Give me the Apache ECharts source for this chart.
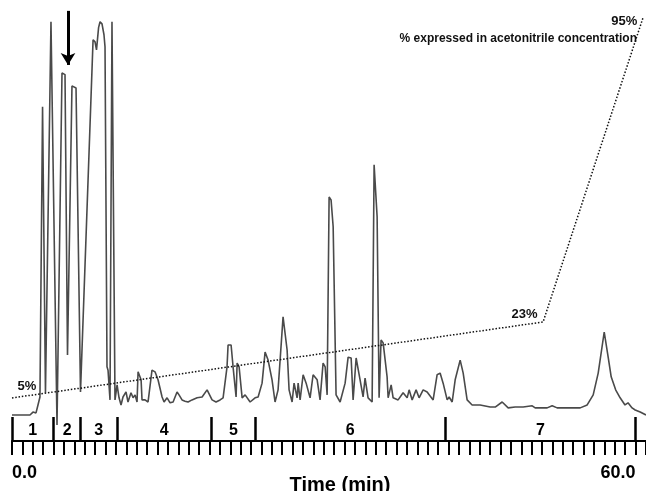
<!DOCTYPE html>
<html>
<head>
<meta charset="utf-8">
<title>Chromatogram</title>
<style>
  html, body { margin: 0; padding: 0; background: #fff; }
  #chart { width: 646px; height: 491px; }
</style>
</head>
<body>
<div id="chart"></div>
<script src="https://cdn.jsdelivr.net/npm/echarts@6.0.0/dist/echarts.min.js"></script>
<script>
// retention time (min) and detector signal (arbitrary units)
const timeMin = [
  0, 1.73, 2.02, 2.31, 2.50, 2.69, 2.94, 3.22, 3.75, 4.33,
  4.81, 5.10, 5.34, 5.77, 6.16, 6.59, 7.80, 7.99, 8.13, 8.33,
  8.47, 8.66, 8.85, 8.95, 9.14, 9.24, 9.43, 9.62, 9.91, 10.11,
  10.30, 10.49, 10.68, 10.97, 11.16, 11.45, 11.65, 11.84, 12.03, 12.13,
  12.32, 12.42, 12.51, 12.80, 13.09, 13.47, 13.76, 14.05, 14.44, 14.63,
  14.92, 15.21, 15.50, 15.88, 16.07, 16.36, 16.65, 16.94, 17.32, 17.81,
  18.29, 18.77, 18.86, 19.25, 19.63, 20.02, 20.31, 20.69, 20.79, 21.08,
  21.27, 21.56, 21.66, 21.85, 22.14, 22.43, 22.91, 23.39, 23.68, 24.06,
  24.35, 24.64, 25.02, 25.31, 25.60, 26.08, 26.47, 26.66, 26.95, 27.14,
  27.43, 27.53, 27.72, 28.01, 28.30, 28.68, 28.97, 29.36, 29.64, 29.93,
  30.13, 30.32, 30.51, 30.70, 30.90, 31.18, 31.57, 32.05, 32.34, 32.63,
  32.82, 33.11, 33.49, 33.78, 33.97, 34.26, 34.65, 34.84, 35.13, 35.32,
  35.51, 35.71, 36.09, 36.19, 36.48, 36.67, 37.15, 37.63, 38.02, 38.21,
  38.50, 38.88, 39.17, 39.56, 39.94, 40.52, 40.90, 41.19, 41.48, 41.87,
  42.06, 42.35, 42.64, 43.12, 43.41, 43.79, 44.27, 45.04, 46.01, 46.49,
  47.16, 47.74, 48.41, 49.18, 50.05, 50.34, 51.49, 51.97, 52.45, 54.67,
  55.34, 55.92, 56.40, 56.98, 57.36, 57.65, 58.08, 58.51, 58.98, 59.27,
  59.66, 59.96, 60.44, 61.0
];
const signal = [
  6.2, 6.2, 6.9, 6.7, 8.6, 10.5, 79.7, 11.5, 100, 3.8,
  87.8, 87.4, 20.5, 84.7, 84.2, 11.7, 95.7, 95.2, 93.3, 98.6,
  100, 99.5, 96.9, 94.0, 17.7, 16.9, 9.8, 100, 9.8, 13.4,
  10.3, 8.6, 10.5, 11.7, 9.3, 11.5, 10.3, 11.0, 9.3, 16.5,
  16.9, 14.6, 9.8, 9.8, 9.3, 16.9, 16.5, 14.6, 10.5, 9.3,
  10.3, 9.1, 9.3, 11.7, 11.0, 9.8, 9.5, 9.3, 9.8, 10.3,
  10.5, 12.2, 12.6, 9.8, 9.3, 9.8, 10.3, 17.7, 22.9, 22.9,
  17.7, 10.5, 18.6, 17.7, 10.3, 11.0, 9.3, 10.3, 10.5, 13.8,
  21.2, 19.3, 14.6, 9.3, 12.2, 29.6, 21.7, 12.2, 9.3, 13.8,
  10.3, 13.8, 9.8, 15.8, 13.8, 10.3, 15.8, 14.6, 9.8, 18.6,
  17.7, 11.0, 58.2, 57.5, 51.1, 11.0, 9.3, 13.8, 20.0, 19.8,
  9.8, 19.8, 14.6, 10.5, 15.0, 10.3, 9.3, 65.9, 53.5, 10.3,
  24.1, 23.4, 15.3, 10.3, 13.4, 10.3, 9.8, 11.5, 10.3, 12.2,
  9.8, 12.2, 10.3, 12.2, 11.7, 9.8, 15.8, 16.2, 13.8, 9.8,
  10.5, 9.3, 14.6, 19.3, 16.2, 9.8, 8.6, 8.6, 8.1, 8.1,
  9.3, 7.9, 8.1, 8.1, 8.4, 7.9, 7.9, 8.4, 7.9, 7.9,
  8.6, 11.0, 16.2, 26.0, 20.0, 15.3, 12.2, 10.3, 8.6, 9.1,
  7.9, 7.4, 6.9, 6.2
];

// acetonitrile gradient
const gradientTime = [0, 51.1, 60.7];
const gradientPct = [5, 23, 95];
const gradientLabels = ['5%', '23%', '95%'];

// collected fractions
const fractionBounds = [0, 4.0, 6.6, 10.1, 19.2, 23.4, 41.7, 60];
const fractionNames = ['1', '2', '3', '4', '5', '6', '7'];

const timeTickLabels = [0, 60];

// arrow marking the peak of interest
const arrowTime = 5.39;
const arrowFrom = 102.6;
const arrowTo = 89.7;

const font = '"Liberation Sans", Arial, sans-serif';
const fractionMids = fractionNames.map((n, i) => (fractionBounds[i] + fractionBounds[i + 1]) / 2);
const labelPos = [
  { position: 'top', offset: [15, 0] },
  { position: 'left', offset: [0, -8] },
  { position: 'left', offset: [0, 3] }
];

const chart = echarts.init(document.getElementById('chart'));

chart.setOption({
  animation: false,
  backgroundColor: '#fff',
  textStyle: { fontFamily: font },
  title: {
    text: '% expressed in acetonitrile concentration',
    right: 9,
    top: 33,
    padding: 0,
    textStyle: { fontFamily: font, fontSize: 12, fontWeight: 'bold', color: '#111' }
  },
  grid: { left: 12, right: 0, top: 5, bottom: 50, outerBoundsMode: 'none' },
  xAxis: [
    {
      type: 'value',
      min: 0,
      max: 61,
      interval: 1,
      position: 'bottom',
      splitLine: { show: false },
      axisLine: { onZero: false, lineStyle: { color: '#000', width: 2 } },
      axisTick: { length: 14, lineStyle: { color: '#000', width: 2 } },
      axisLabel: {
        customValues: timeTickLabels,
        formatter: (v) => Number(v).toFixed(1),
        alignMinLabel: 'left',
        alignMaxLabel: 'right',
        margin: 23,
        fontSize: 18,
        fontWeight: 'bold',
        color: '#000'
      },
      name: 'Time (min)',
      nameLocation: 'middle',
      nameGap: 34,
      nameMoveOverlap: false,
      nameTextStyle: { fontSize: 20, fontWeight: 'bold', color: '#000', padding: [0, 0, 0, 22] }
    },
    {
      type: 'value',
      min: 0,
      max: 61,
      position: 'bottom',
      splitLine: { show: false },
      axisLine: { show: false, onZero: false },
      axisTick: {
        inside: true,
        length: 24,
        customValues: fractionBounds,
        lineStyle: { color: '#000', width: 2.5 }
      },
      axisLabel: {
        inside: false,
        customValues: fractionMids,
        formatter: (v) => {
          const i = fractionMids.findIndex((m) => Math.abs(m - v) < 1e-6);
          return i >= 0 ? fractionNames[i] : '';
        },
        margin: -18,
        fontSize: 16,
        fontWeight: 'bold',
        color: '#000'
      }
    }
  ],
  yAxis: [
    { type: 'value', min: 0, max: 104, show: false },
    { type: 'value', min: -5.2, max: 98.1, show: false }
  ],
  series: [
    {
      name: 'signal',
      type: 'line',
      xAxisIndex: 0,
      yAxisIndex: 0,
      data: timeMin.map((t, i) => [t, signal[i]]),
      symbol: 'none',
      lineStyle: { color: '#4a4a4a', width: 1.6 },
      markLine: {
        silent: true,
        symbol: ['none', 'arrow'],
        symbolSize: [11, 12],
        label: { show: false },
        lineStyle: { color: '#000', width: 3, type: 'solid' },
        data: [[{ coord: [arrowTime, arrowFrom] }, { coord: [arrowTime, arrowTo] }]]
      }
    },
    {
      name: 'gradient',
      type: 'line',
      xAxisIndex: 0,
      yAxisIndex: 1,
      clip: false,
      data: gradientTime.map((t, i) => ({
        value: [t, gradientPct[i]],
        label: {
          show: true,
          formatter: gradientLabels[i],
          position: labelPos[i].position,
          offset: labelPos[i].offset,
          fontFamily: font,
          fontSize: 13,
          fontWeight: 'bold',
          color: '#111'
        }
      })),
      symbol: 'circle',
      symbolSize: 1,
      itemStyle: { color: 'rgba(0,0,0,0)' },
      lineStyle: { color: '#111', width: 1.5, type: [1.5, 1.8] }
    }
  ]
});
</script>
</body>
</html>
